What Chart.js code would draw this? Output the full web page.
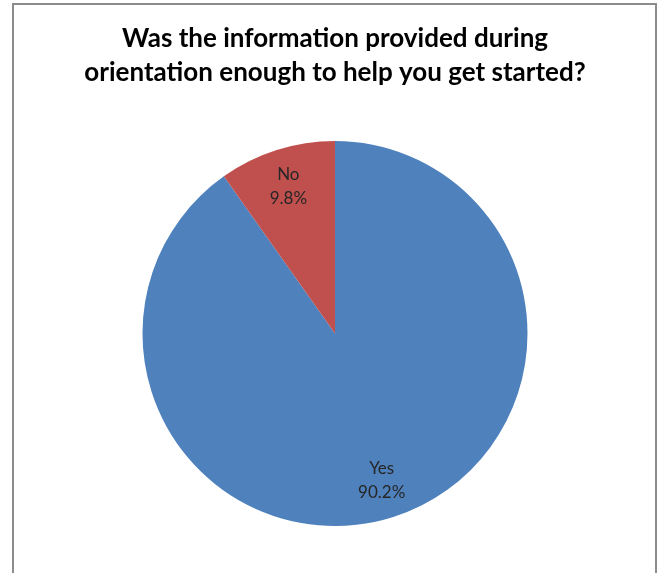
<!DOCTYPE html>
<html>
<head>
<meta charset="utf-8">
<script src="https://cdn.jsdelivr.net/npm/chart.js@4"></script>
<style>
  html, body { margin: 0; padding: 0; background: #fff; }
  #wrap { position: relative; width: 660px; height: 573px; }
</style>
</head>
<body>
<div id="wrap"><canvas id="pie_chart" width="660" height="573"></canvas></div>
<script>
var answers = ["Yes", "No"];
var shares = [90.2, 9.8];
var sliceColors = ["#4F81BD", "#C0504D"];
var titleLines = ["Was the information provided during", "orientation enough to help you get started?"];

// grey frame around the whole chart
var framePlugin = {
	id: "frame",
	beforeDraw: function(chart) {
		var ctx = chart.ctx;
		ctx.save();
		ctx.strokeStyle = "#8c8c8c";
		ctx.lineWidth = 2;
		ctx.strokeRect(13, 4, 643, 620);
		ctx.restore();
	}
};

// category name + percentage written inside each slice
var sliceLabels = {
	id: "sliceLabels",
	afterDatasetsDraw: function(chart) {
		var ctx = chart.ctx;
		var meta = chart.getDatasetMeta(0);
		ctx.save();
		ctx.font = "17px Lato";
		ctx.fillStyle = "#262626";
		ctx.textAlign = "center";
		ctx.textBaseline = "middle";
		meta.data.forEach(function(arc, i) {
			var p = arc.getProps(["x", "y", "startAngle", "endAngle", "outerRadius"], true);
			var mid = (p.startAngle + p.endAngle) / 2;
			var r = p.outerRadius * 0.8;
			var x = p.x + Math.cos(mid) * r;
			var y = p.y + Math.sin(mid) * r;
			ctx.fillText(answers[i], x, y - 12);
			ctx.fillText(shares[i].toFixed(1) + "%", x, y + 12);
		});
		ctx.restore();
	}
};

new Chart(document.getElementById("pie_chart").getContext("2d"), {
	type: "pie",
	data: {
		labels: answers,
		datasets: [{
			data: shares,
			backgroundColor: sliceColors,
			borderWidth: 0
		}]
	},
	options: {
		responsive: false,
		animation: false,
		layout: { padding: { top: 0, bottom: 47, left: 14, right: 4 } },
		plugins: {
			legend: { display: false },
			tooltip: { enabled: false },
			title: {
				display: true,
				text: titleLines,
				color: "#000",
				font: { family: "Lato", size: 26, weight: "bold", lineHeight: "34px" },
				padding: { top: 22, bottom: 51 }
			}
		}
	},
	plugins: [framePlugin, sliceLabels]
});
</script>
</body>
</html>
